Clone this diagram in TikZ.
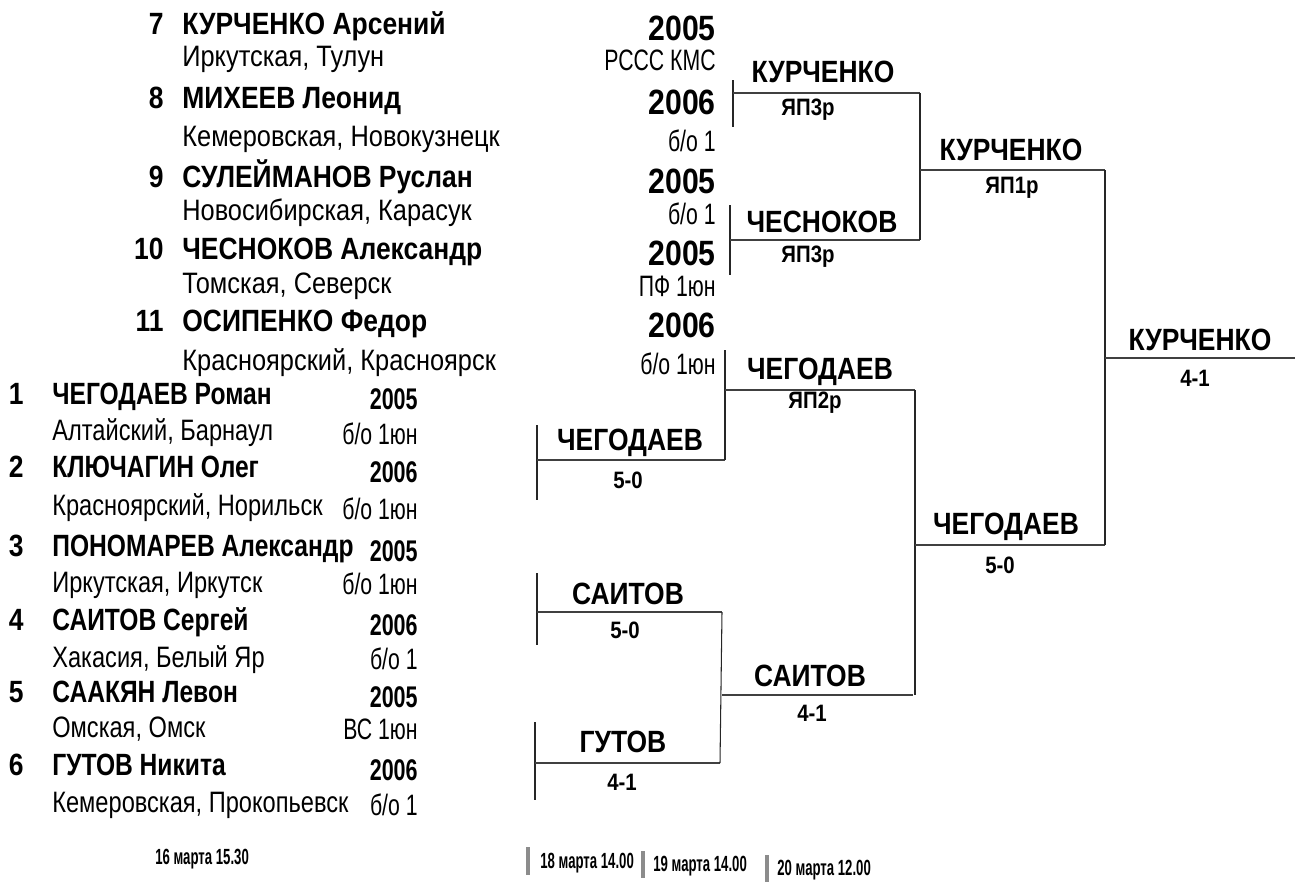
\documentclass[tikz,border=0pt]{standalone}
\usepackage{fontspec}
\setmainfont{Liberation Sans}[FakeStretch=0.86]
\newfontfamily\midfont{Liberation Sans}[FakeStretch=0.8]
\newfontfamily\narrowfont{Liberation Sans}[FakeStretch=0.72]
\newfontfamily\datefont{Liberation Sans}[FakeStretch=0.6]
\usetikzlibrary{positioning}

\tikzset{
  seedno/.style={anchor=mid east, inner sep=0pt, font=\fontsize{17.5}{20}\selectfont\bfseries},
  player/.style={anchor=mid west, inner sep=0pt, font=\fontsize{17.5}{20}\selectfont\bfseries},
  region/.style={anchor=mid west, inner sep=0pt, font=\fontsize{16.8}{19}\selectfont},
  year/.style={anchor=mid east, inner sep=0pt, font=\fontsize{20}{22}\selectfont\bfseries},
  rank/.style={anchor=mid east, inner sep=0pt, font=\narrowfont\fontsize{16.8}{19}\selectfont},
  winner/.style={inner sep=0pt, font=\fontsize{17.5}{20}\selectfont\bfseries},
  score/.style={inner sep=0pt, font=\fontsize{13.5}{15}\selectfont\bfseries},
  daylbl/.style={anchor=mid west, inner sep=0pt, font=\datefont\fontsize{12.5}{14}\selectfont\bfseries},
  vline/.style={black!85, line width=0.6pt},
  hline/.style={black!75, line width=0.9pt},
  daybar/.style={fill=black!45, draw=none}
}

\begin{document}
\begin{tikzpicture}[x=0.02cm,y=-0.02cm]

% Page frame (1295 x 894 px)
\useasboundingbox (0,0) rectangle (1295,894);

% Seeds 7 - 11 (upper list)
\def\nx{164}   % right edge of seed numbers
\def\tx{182}   % left edge of names
\def\rx{716}   % right edge of year / rank column
\foreach \no/\nm/\reg/\ny/\gy/\yr/\rk/\ky in {
    7/{КУРЧЕНКО Арсений}/{Иркутская, Тулун}/30/62/2005/{РССС КМС}/66,
    8/{МИХЕЕВ Леонид}/{Кемеровская, Новокузнецк}/104/142/2006/{б/о 1}/147,
    9/{СУЛЕЙМАНОВ Руслан}/{Новосибирская, Карасук}/183/216/2005/{б/о 1}/220,
    10/{ЧЕСНОКОВ Александр}/{Томская, Северск}/255/289/2005/{ПФ 1юн}/292,
    11/{ОСИПЕНКО Федор}/{Красноярский, Красноярск}/327/366/2006/{б/о 1юн}/370}{
  \node[seedno] (no\no) at (\nx,\ny) {\no};
  \node[player] (pl\no) at (\tx,\ny) {\nm};
  \node[region] (rg\no) at (\tx,\gy) {\reg};
  \node[year] (yr\no) at (\rx,\ny+6) {\yr};
  \node[rank] (rk\no) at (\rx,\ky) {\rk};
}

% Seeds 1 - 6 (lower list, set a little tighter)
\begin{scope}[player/.append style={font=\midfont\fontsize{17.5}{20}\selectfont\bfseries},
              region/.append style={font=\midfont\fontsize{16.8}{19}\selectfont},
              year/.append style={font=\narrowfont\fontsize{17}{20}\selectfont\bfseries}]
\def\nx{24}
\def\tx{52}
\def\rx{418}
\foreach \no/\nm/\reg/\ny/\gy/\yr/\rk/\ky in {
    1/{ЧЕГОДАЕВ Роман}/{Алтайский, Барнаул}/400/436/2005/{б/о 1юн}/440,
    2/{КЛЮЧАГИН Олег}/{Красноярский, Норильск}/473/511/2006/{б/о 1юн}/515,
    3/{ПОНОМАРЕВ Александр}/{Иркутская, Иркутск}/552/588/2005/{б/о 1юн}/590,
    4/{САИТОВ Сергей}/{Хакасия, Белый Яр}/626/663/2006/{б/о 1}/665,
    5/{СААКЯН Левон}/{Омская, Омск}/698/733/2005/{ВС 1юн}/735,
    6/{ГУТОВ Никита}/{Кемеровская, Прокопьевск}/771/808/2006/{б/о 1}/811}{
  \node[seedno] (no\no) at (\nx,\ny) {\no};
  \node[player] (pl\no) at (\tx,\ny) {\nm};
  \node[region] (rg\no) at (\tx,\gy) {\reg};
  \node[year] (yr\no) at (\rx,\ny+5) {\yr};
  \node[rank] (rk\no) at (\rx,\ky) {\rk};
}
\end{scope}

% Round 1: 7 - 8
\coordinate (a1) at (733,80);  \coordinate (a2) at (733,127);
\coordinate (ae) at (920,93);
\draw[vline] (a1) -- (a2);
\draw[hline] (a1|-ae) -- (ae);
\node[winner] (wa) at (823,72) {КУРЧЕНКО};
\node[score] (sa) at (808,110) {ЯП3р};

% Round 1: 9 - 10
\coordinate (b1) at (730,205); \coordinate (b2) at (730,275);
\coordinate (be) at (920,240);
\draw[vline] (b1) -- (b2);
\draw[hline] (b1|-be) -- (be);
\node[winner] (wb) at (822,222) {ЧЕСНОКОВ};
\node[score] (sb) at (808,257) {ЯП3р};

% Round 1: 1 - 2
\coordinate (c1) at (537,425); \coordinate (c2) at (537,500);
\coordinate (ce) at (725,460);
\draw[vline] (c1) -- (c2);
\draw[hline] (c1|-ce) -- (ce);
\node[winner] (wc) at (630,443) {ЧЕГОДАЕВ};
\node[score] (sc) at (628,480) {5-0};

% Round 1: 3 - 4
\coordinate (d1) at (537,573); \coordinate (d2) at (537,645);
\coordinate (de) at (722,612);
\draw[vline] (d1) -- (d2);
\draw[hline] (d1|-de) -- (de);
\node[winner] (wd) at (628,594) {САИТОВ};
\node[score] (sd) at (625,630) {5-0};

% Round 1: 5 - 6
\coordinate (e1) at (535,722); \coordinate (e2) at (535,800);
\coordinate (ee) at (720,763);
\draw[vline] (e1) -- (e2);
\draw[hline] (e1|-ee) -- (ee);
\node[winner] (we) at (623,742) {ГУТОВ};
\node[score] (se) at (622,782) {4-1};

% Round 2: 11 - winner of 1/2
\coordinate (f1) at (725,350);
\coordinate (fe) at (915,390);
\draw[vline] (f1) -- (ce);
\draw[hline] (f1|-fe) -- (fe);
\node[winner] (wf) at (820,372) {ЧЕГОДАЕВ};
\node[score] (sf) at (815,403) {ЯП2р};

% Round 2: winners of 3/4 and 5/6
\coordinate (ge) at (913,695);
\draw[vline] (de) -- (ee);
\draw[hline] (de|-ge) -- (ge);
\node[winner] (wg) at (810,676) {САИТОВ};
\node[score] (sg) at (812,713) {4-1};

% Semifinal, upper
\coordinate (he) at (1105,170);
\draw[vline] (ae) -- (be);
\draw[hline] (ae|-he) -- (he);
\node[winner] (wh) at (1011,150) {КУРЧЕНКО};
\node[score] (sh) at (1012,188) {ЯП1р};

% Semifinal, lower
\coordinate (ie) at (1105,545);
\draw[vline] (fe) -- (fe|-ge);
\draw[hline] (fe|-ie) -- (ie);
\node[winner] (wi) at (1006,527) {ЧЕГОДАЕВ};
\node[score] (si) at (1000,565) {5-0};

% Final
\coordinate (je) at (1295,358);
\draw[vline] (he) -- (ie);
\draw[hline, line width=1.3pt] (he|-je) -- (je);
\node[winner] (wj) at (1200,340) {КУРЧЕНКО};
\node[score] (sj) at (1195,378) {4-1};

% Days of the rounds
\node[daylbl] (d16) at (155,860) {16 марта 15.30};
\fill[daybar] (526,847) rectangle (530,875);
\node[daylbl] (d18) at (540,864) {18 марта 14.00};
\fill[daybar] (641,851) rectangle (645,878);
\node[daylbl] (d19) at (653,867) {19 марта 14.00};
\fill[daybar] (765,855) rectangle (769,882);
\node[daylbl] (d20) at (777,871) {20 марта 12.00};

\end{tikzpicture}
\end{document}
